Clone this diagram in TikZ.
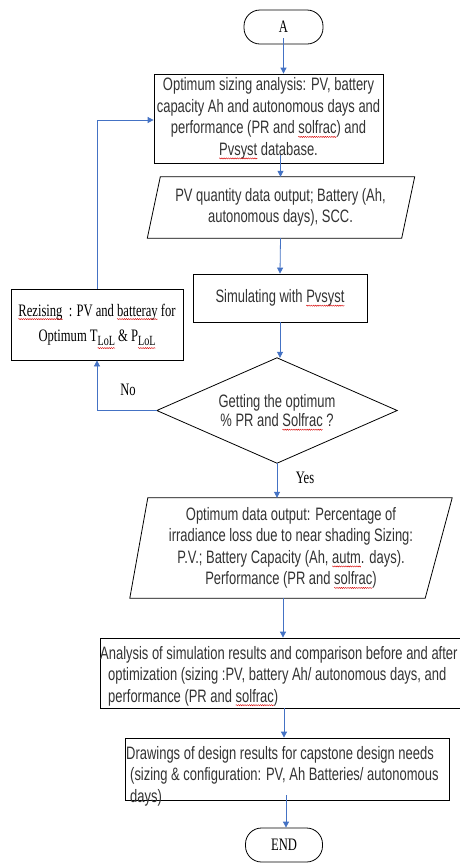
\documentclass[tikz,border=0pt]{standalone}
\usepackage{fontspec}
\setmainfont{Liberation Serif}[FakeStretch=0.72]
\newfontfamily\sansf{Liberation Sans}[FakeStretch=0.72]
\usetikzlibrary{arrows.meta,calc,decorations.pathmorphing}
\definecolor{arrblue}{HTML}{4472C4}
\definecolor{txt}{HTML}{333333}
\newsavebox\sqbox
\newlength\sqlen
\newcommand\sqw[1]{\sbox\sqbox{#1}\setlength\sqlen{\wd\sqbox}\rlap{\usebox\sqbox}\tikz[overlay,baseline=0pt]\draw[red!85!black,line width=0.4pt,decorate,decoration={zigzag,segment length=2.2pt,amplitude=0.6pt}] (0pt,-3pt) -- (\sqlen,-3pt);\hspace*{\sqlen}}
\newcommand\sbs[1]{\raisebox{-4pt}{\fontsize{14}{14}\selectfont\sqw{#1}}}
\begin{document}
\begin{tikzpicture}[x=1pt,y=-1pt,
  box/.style={draw=black,line width=0.8pt,inner sep=0pt},
  sans/.style={font=\sansf\fontsize{18}{21.5}\selectfont,text=txt,align=center,inner sep=0pt},
  serif/.style={font=\fontsize{17.5}{26}\selectfont,text=black,align=center,inner sep=0pt},
  arr/.style={draw=arrblue,line width=0.8pt,-{Triangle[width=6pt,length=6pt]}},
  shp/.style={draw=black,line width=0.8pt}]
\useasboundingbox (0,0) rectangle (460,863);
\fill[white] (0,0) rectangle (460,863);

% terminals
\node[box,serif,rounded corners=16pt,minimum width=79pt,minimum height=34pt] (A) at (283.5,27) {A};
\node[box,serif,rounded corners=16pt,minimum width=77pt,minimum height=34pt] (E) at (284,845) {END};

% box 1
\node[box,sans,minimum width=229pt,minimum height=89pt] (b1) at (268.5,118.5)
  {Optimum sizing analysis: PV, battery\\capacity Ah and autonomous days and\\performance (PR and \sqw{solfrac}) and\\\sqw{Pvsyst} database.};

% parallelogram 1
\node[sans,minimum width=254pt,minimum height=61pt] (p1) at (280.5,207.5)
  {PV quantity data output; Battery (Ah,\\autonomous days), SCC.};
\draw[shp] ($(p1.north west)+(7,0)$) -- ($(p1.north east)+(7,0)$) -- ($(p1.south east)+(-6,0)$) -- ($(p1.south west)+(-6,0)$) -- cycle;

% simulating
\node[box,sans,minimum width=174pt,minimum height=48pt] (sim) at (280,298) {Simulating with \sqw{Pvsyst}};

% decision
\node[sans,font=\sansf\fontsize{18}{19.5}\selectfont,minimum width=240pt,minimum height=105pt] (d) at (277,410.5)
  {Getting the optimum\\\% PR and \sqw{Solfrac} ?};
\draw[shp] (d.north) -- (d.east) -- (d.south) -- (d.west) -- cycle;

% resizing
\node[box,serif,minimum width=172pt,minimum height=71pt] (rz) at (97,324.5)
  {\sqw{Rezising}\ \ : PV and \sqw{batteray} for\\[-1pt]Optimum T\sbs{LoL} \& P\sbs{LoL}};

% parallelogram 2
\node[sans,minimum width=300pt,minimum height=100pt] (p2) at (291,548)
  {Optimum data output: Percentage of\\irradiance loss due to near shading Sizing:\\P.V.; Battery Capacity (Ah, \sqw{autm}. days).\\Performance (PR and \sqw{solfrac})};
\draw[shp] ($(p2.north west)+(7,0)$) -- ($(p2.north east)+(11,0)$) -- ($(p2.south east)+(-16,0)$) -- ($(p2.south west)+(-11,0)$) -- cycle;

% box 3
\node[box,minimum width=362pt,minimum height=70pt] (b3) at (281,673) {};
\node[sans,align=left,anchor=west] (b3t) at (100,676)
  {Analysis of simulation results and comparison before and after\\\hspace*{8pt}optimization (sizing :PV, battery Ah/ autonomous days, and\\\hspace*{8pt}performance (PR and \sqw{solfrac})};

% box 4
\node[box,minimum width=324pt,minimum height=62pt] (b4) at (287,769) {};
\node[sans,align=left,anchor=west] (b4t) at (126,776)
  {Drawings of design results for capstone design needs\\\hspace*{4pt}(sizing \& configuration: PV, Ah Batteries/ autonomous\\\hspace*{4pt}days)};

% labels
\node[serif] (no) at (128,390) {No};
\node[serif] (yes) at (305,478) {Yes};

% connectors
\coordinate (a0) at ($(A.south)+(0,-6)$);
\draw[arr] (a0) -- (a0 |- b1.north);
\coordinate (c1) at ($(p1.north |- b1.south)+(0,-8)$);
\draw[arr] (c1) -- (p1.north);
\draw[arr] (p1.south) -- (sim.north);
\draw[arr] (sim.south) -- (sim.south |- d.north);
\draw[arr] (d.south) -- (d.south |- p2.north);
\coordinate (c2) at ($(p2.south)+(-8,0)$);
\draw[arr] (c2) -- (c2 |- b3.north);
\coordinate (c3) at ($(b3.south)+(3,0)$);
\draw[arr] (c3) -- (c3 |- b4.north);
\coordinate (c4) at ($(E.north |- b4.south)+(2,-5)$);
\draw[arr] (c4) -- (c4 |- E.north);
\draw[arr] (d.west) -- (d.west -| rz.south) -- (rz.south);
\coordinate (b1in) at ($(b1.west)+(0,1.5)$);
\draw[arr] (rz.north) -- (rz.north |- b1in) -- (b1in);
\end{tikzpicture}
\end{document}
